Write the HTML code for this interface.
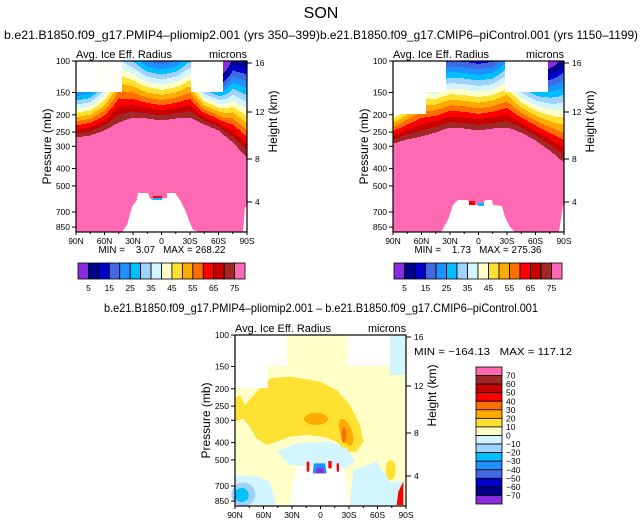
<!DOCTYPE html>
<html><head><meta charset="utf-8">
<style>
html,body{margin:0;padding:0;background:#fff;}
svg{display:block;font-family:"Liberation Sans",sans-serif;}
text{fill:#000;white-space:pre;}
</style></head>
<body>
<svg id="svg" width="643" height="526" viewBox="0 0 643 526" xmlns="http://www.w3.org/2000/svg" xml:space="preserve">
<text x="321" y="18" font-size="16" text-anchor="middle">SON</text>
</svg>
<script>
// ---- data ----
const latNodes = ['90N','75N','60N','45N','30N','15N','0','15S','30S','45S','60S','75S','90S'];
const pressTicks = [100,150,200,250,300,400,500,700,850];
const heightTicks = [16,12,8,4];
const xTickLabels = ['90N','60N','30N','0','30S','60S','90S'];
// tropopause (top of >75 region) offset in px from plot top, per lat node
const tropA = [76,74,69,61,56,57,59,57,56,63,69,81,96];
const rateA = [1.22,1.2,1.0,0.62,0.8,0.96,0.98,0.96,0.8,1.3,1.3,0.83,0.72];
const tropB = [82,78,75,71,66,67,69,67,66,71,79,89,101];
const rateB = [1.2,1.0,0.8,0.9,0.9,0.9,0.9,0.9,0.76,1.0,1.0,0.85,0.66];
const levels = [5,10,15,20,25,30,35,40,45,50,55,60,65,70,75];
const colors = ['#8a2be2','#00008b','#0000cd','#4169e1','#1e90ff','#00bfff','#a0d2ff','#d2f5ff','#ffffc8','#ffe132','#ffaa00','#ff6e00','#ff0000','#c80000','#a02828','#ff69b4'];
const barLabels = ['5','15','25','35','45','55','65','75'];
const diffLabels = ['70','60','50','40','30','20','10','0','-10','-20','-30','-40','-50','-60','-70'];
const diffColors = ['#ff69b4','#a02828','#c80000','#ff0000','#ff6e00','#ffaa00','#ffe132','#ffffc8','#d2f5ff','#a0d2ff','#00bfff','#1e90ff','#4169e1','#0000cd','#00008b','#8a2be2'];

const NS='http://www.w3.org/2000/svg';
const svg=document.getElementById('svg');
function mk(tag,attrs,parent){const e=document.createElementNS(NS,tag);for(const k in attrs)e.setAttribute(k,attrs[k]);(parent||svg).appendChild(e);return e;}
function txt(s,x,y,size,anchor,parent,len){const t=mk('text',{x:x,y:y,'font-size':size,'text-anchor':anchor||'start'},parent);if(len){t.setAttribute('textLength',len);t.setAttribute('lengthAdjust','spacingAndGlyphs');}t.textContent=s;return t;}

const PH=171, PW=171;
function yOfP(p){return 77.6*Math.log(p/100);}
function yOfH(h){const hy={16:2,12:51,8:98,4:141};return hy[h];}

function panel(name,x0,y0,subtitle,subX,subLen){
  const g=mk('g',{});
  
  
  if(subtitle){const t=txt(subtitle,subX,39,12,'start',g,subLen);}
  const a=txt('Avg. Ice Eff. Radius',x0,y0-3,11,'start',g,96);
  const u=txt('microns',x0+PW,y0-3,11,'end',g,38);
  return g;
}
function axes(g,x0,y0){
  const fr=mk('rect',{x:x0,y:y0,width:PW,height:PH,fill:'none',stroke:'#000','stroke-width':1.2},g);
  
  pressTicks.forEach(p=>{const y=y0+yOfP(p);mk('line',{x1:x0-4,x2:x0,y1:y,y2:y,stroke:'#000'},g);
    const t=txt(String(p),x0-6,y+3,8.5,'end',g);});
  heightTicks.forEach(h=>{const y=y0+yOfH(h);mk('line',{x1:x0+PW,x2:x0+PW+5,y1:y,y2:y,stroke:'#000'},g);
    const t=txt(String(h),x0+PW+8,y+3,8.5,'start',g);});
  xTickLabels.forEach((l,i)=>{const x=x0+i*PW/6;mk('line',{x1:x,x2:x,y1:y0+PH,y2:y0+PH+3,stroke:'#000'},g);
    const t=txt(l,x,y0+PH+12,8.5,'middle',g);});
  for(let i=0;i<=12;i++){const x=x0+i*PW/12;mk('line',{x1:x,x2:x,y1:y0+PH,y2:y0+PH+2,stroke:'#000'},g);}
  const py=txt('Pressure (mb)',0,0,12,'middle',g);py.setAttribute('transform',`translate(${x0-25},${y0+PH/2}) rotate(-90)`);
  
  const hy=txt('Height (km)',0,0,12,'middle',g);hy.setAttribute('transform',`translate(${x0+PW+30},${y0+PH/2-25}) rotate(-90)`);
  
}
function field(g,x0,y0,trop,rate){
  for(let c=0;c<PW;c++){
    const t=(c+0.5)/PW*12, i=Math.min(11,Math.floor(t)), f=t-i;
    const yt=trop[i]*(1-f)+trop[i+1]*f, r=rate[i]*(1-f)+rate[i+1]*f;
    let start=0,prev=-1;
    for(let y=0;y<=PH;y++){
      let k=-1;
      if(y<PH){const v=y>=yt?80:75-r*(yt-y);k=0;while(k<levels.length&&v>=levels[k])k++;}
      if(k!==prev){
        if(prev>=0){const rc=mk('rect',{x:x0+c,y:y0+start,width:1.05,height:y-start,fill:colors[prev]},g);
          }
        start=y;prev=k;
      }
    }
  }
}
function poly(g,pts,fill,name){const p=mk('polygon',{points:pts.map(q=>q.join(',')).join(' '),fill:fill},g);
  return p;}
function colorbar(g,x0,y0,w,h){
  const bw=w/16;
  colors.forEach((c,i)=>{const r=mk('rect',{x:x0+i*bw,y:y0,width:bw,height:h,fill:c,stroke:'#000','stroke-width':0.8},g);
    });
  barLabels.forEach((l,i)=>{const t=txt(l,x0+(2*i+1)*bw,y0+h+12,8.5,'middle',g);});
}

// ---- panel A ----
const gA=panel('panel-pliomip2',76,61,'b.e21.B1850.f09_g17.PMIP4\u2013pliomip2.001 (yrs 350\u2013399)',4,316);
field(gA,76,61,tropA,rateA);
poly(gA,[[76,61],[122,61],[122,92],[76,92]],'#fff','missing-region');
poly(gA,[[106,61],[107,61],[107,92],[106,92]],'#ffffc8','thin-streak');
poly(gA,[[191,61],[223,61],[223,92],[191,92]],'#fff','missing-region');
poly(gA,[[122,232],[127,225],[132,207],[137,200],[138,193],[148,193],[150,198],[152,200],[167,198],[167,193],[175,193],[180,200],[185,210],[190,223],[193,230],[200,232]],'#fff','terrain-mask');
poly(gA,[[245,207],[247,207],[247,232],[243,232]],'#fff','terrain-mask');
poly(gA,[[153,196],[162,196],[162,198],[153,198]],'#ff0000','blip');
poly(gA,[[153,198],[162,198],[162,200],[153,200]],'#00bfff','blip');
axes(gA,76,61);
txt('MIN =    3.07   MAX = 268.22',162,253,10,'middle',gA,127);
colorbar(gA,78,263,167,16);

// ---- panel B ----
const gB=panel('panel-picontrol',393,61,'b.e21.B1850.f09_g17.CMIP6\u2013piControl.001 (yrs 1150\u20131199)',320,318);
field(gB,393,61,tropB,rateB);
poly(gB,[[393,61],[426,61],[426,114],[393,114]],'#fff','missing-region');
poly(gB,[[426,61],[446,61],[446,92],[426,92]],'#fff','missing-region');
poly(gB,[[505,61],[548,61],[548,92],[505,92]],'#fff','missing-region');
poly(gB,[[441,232],[448,220],[453,205],[458,200],[468,200],[470,205],[483,205],[485,200],[492,200],[493,205],[502,206],[505,217],[510,227],[515,232]],'#fff','terrain-mask');
poly(gB,[[563,205],[565,205],[565,232],[559,232]],'#fff','terrain-mask');
poly(gB,[[469,201],[475,201],[475,205],[469,205]],'#ff0000','blip');
poly(gB,[[478,203],[484,203],[484,206],[478,206]],'#00bfff','blip');
axes(gB,393,61);
txt('MIN =    1.73   MAX = 275.36',478,253,10,'middle',gB,127);
colorbar(gB,394,263,168,16);

// ---- difference panel ----
const gD=panel('panel-difference',235,335,null);
const tt=txt('b.e21.B1850.f09_g17.PMIP4\u2013pliomip2.001 \u2013 b.e21.B1850.f09_g17.CMIP6\u2013piControl.001',321,312,12,'middle',gD,434);

const Z=(pts)=>pts.map(p=>[190+p[0]/3,295+p[1]/3]);
mk('rect',{x:235,y:335,width:171,height:171,fill:'#ffffc8'},gD);
poly(gD,Z([[135,310],[150,300],[165,330],[200,290],[240,250],[300,245],[390,260],[440,285],[480,330],[510,390],[520,440],[500,470],[470,470],[440,440],[400,425],[350,420],[300,425],[260,440],[230,450],[200,430],[175,390],[160,370],[135,380]]),'#ffe132','gold-region');
poly(gD,Z([[260,470],[320,445],[420,440],[470,460],[495,500],[470,520],[300,510]]),'#d2f5ff','cyan-region');
poly(gD,Z([[135,540],[200,545],[240,560],[260,630],[135,630]]),'#d2f5ff','cyan-region');
poly(gD,Z([[490,525],[560,500],[600,560],[640,560],[645,632],[480,632]]),'#d2f5ff','cyan-region');
poly(gD,Z([[600,120],[645,120],[645,240],[600,240]]),'#d2f5ff','cyan-region');
const e1=mk('ellipse',{cx:190+378/3,cy:295+372/3,rx:12,ry:6,fill:'#ffaa00'},gD);
const e2=mk('ellipse',{cx:190+468/3,cy:295+412/3,rx:6,ry:14,fill:'#ffaa00',transform:`rotate(-20 ${190+468/3} ${295+412/3})`},gD);
const e3=mk('ellipse',{cx:190+462/3,cy:295+420/3,rx:2.5,ry:8,fill:'#ff6e00'},gD);
const e4=mk('ellipse',{cx:190+602/3,cy:295+525/3,rx:5,ry:10,fill:'#ffe132'},gD);
const e5=mk('circle',{cx:190+160/3,cy:295+598/3,r:12,fill:'#a0d2ff'},gD);
const e6=mk('circle',{cx:190+155/3,cy:295+600/3,r:7,fill:'#00bfff'},gD);
poly(gD,[[235,335],[287,335],[287,366],[268,366],[268,388],[235,388]],'#fff','missing-region');
poly(gD,[[347,335],[390,335],[390,366],[347,366]],'#fff','missing-region');
poly(gD,Z([[300,632],[310,560],[320,515],[460,515],[470,560],[480,632]]),'#fff','terrain-mask');
poly(gD,Z([[372,505],[405,505],[410,535],[368,535]]),'#1e90ff','negative-blip');
poly(gD,Z([[380,520],[400,520],[402,535],[378,535]]),'#8a2be2','negative-blip');
poly(gD,Z([[350,500],[358,500],[358,530],[350,530]]),'#ff0000','positive-blip');
poly(gD,Z([[415,498],[425,498],[425,520],[415,520]]),'#ff0000','positive-blip');
poly(gD,Z([[440,505],[447,505],[447,530],[440,530]]),'#ff0000','positive-blip');
poly(gD,Z([[625,590],[640,560],[640,630],[620,630]]),'#ff0000','positive-blip');
axes(gD,235,335);
txt('MIN = \u2212164.13   MAX = 117.12',414,355,10,'start',gD,158);
const bh=(504-367)/16;
diffColors.forEach((c,i)=>{const r=mk('rect',{x:476,y:367+i*bh,width:26,height:bh,fill:c,stroke:'#000','stroke-width':0.8},gD);
  });
diffLabels.forEach((l,i)=>{const t=txt(l.replace('-','\u2212'),506,367+(i+1)*bh+3,8.5,'start',gD);
  });
</script>
</body></html>
